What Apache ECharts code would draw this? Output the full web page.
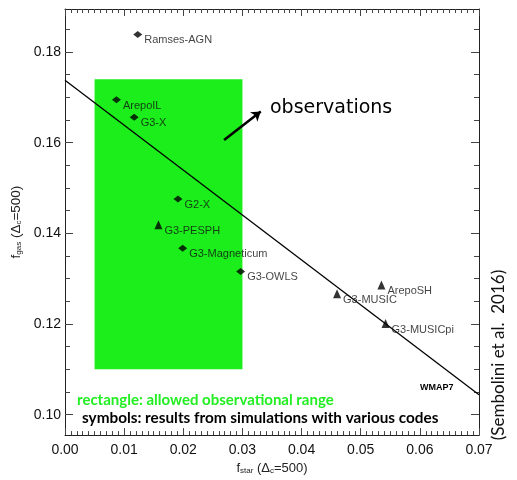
<!DOCTYPE html>
<html><head><meta charset="utf-8">
<script src="https://cdn.jsdelivr.net/npm/echarts@6/dist/echarts.min.js"></script>
<style>html,body{margin:0;padding:0;background:#fff}#c{width:517px;height:480px}</style>
</head><body><div id="c"></div>
<script>
// ---- data ----
const diamondNames = ['Ramses-AGN', 'ArepoIL', 'G3-X', 'G2-X', 'G3-Magneticum', 'G3-OWLS'];
const diamondX = [0.0123, 0.0087, 0.0117, 0.0191, 0.0199, 0.0297];
const diamondY = [0.1839, 0.1695, 0.1656, 0.1476, 0.1367, 0.1316];
const triNames = ['G3-PESPH', 'G3-MUSIC', 'ArepoSH', 'G3-MUSICpi'];
const triX = [0.0158, 0.0460, 0.0535, 0.0542];
const triY = [0.1419, 0.1267, 0.1286, 0.1201];
const fitX = [0.0, 0.07];
const fitY = [0.1738, 0.1044];
const rectX = [0.005, 0.030];
const rectY = [0.110, 0.174];
const arrowX = [0.0269, 0.0331];
const arrowY = [0.1606, 0.1669];
const yMajorTicks = [0.10, 0.12, 0.14, 0.16, 0.18];
const yMinorTicks = [0.105, 0.11, 0.115, 0.125, 0.13, 0.135, 0.145, 0.15, 0.155, 0.165, 0.17, 0.175, 0.185];

const chart = echarts.init(document.getElementById('c'), null, {renderer: 'canvas'});
const AX = '#222';
const TK = '#444';
const FONT = 'Liberation Sans';
const Y_MIN = 0.0955, Y_MAX = 0.1895;

const nameRich = {
  s: {fontSize: 8, fontFamily: FONT, color: '#222', verticalAlign: 'bottom', padding: [4, 0, 0, 0]}
};

function yAx(pos, ticks, len, labels, line) {
  return {
    type: 'value', position: pos, min: Y_MIN, max: Y_MAX,
    axisLine: {show: line, onZero: false, lineStyle: {color: AX, width: 1}},
    axisTick: {show: true, inside: false, length: -len, customValues: ticks, lineStyle: {color: TK, width: 1}},
    axisLabel: labels ? {show: true, customValues: ticks, formatter: v => v.toFixed(2), fontFamily: FONT, fontSize: 14, color: '#111', margin: 4} : {show: false},
    splitLine: {show: false}
  };
}
function xAx(pos, labels) {
  return {
    type: 'value', position: pos, min: 0, max: 0.07, interval: 0.01,
    axisLine: {show: true, onZero: false, lineStyle: {color: AX, width: 1}},
    axisTick: {show: true, inside: false, length: -7, lineStyle: {color: TK, width: 1}},
    minorTick: {show: true, splitNumber: 10, length: -4, lineStyle: {color: TK, width: 1}},
    axisLabel: labels ? {show: true, formatter: v => v.toFixed(2), fontFamily: FONT, fontSize: 14, color: '#111', margin: 8} : {show: false},
    splitLine: {show: false}, minorSplitLine: {show: false}
  };
}

const xMain = xAx('bottom', true);
xMain.name = 'f{s|star} (Δ{s|c}=500)';
xMain.nameLocation = 'middle';
xMain.nameGap = 26;
xMain.nameTextStyle = {fontFamily: FONT, fontSize: 13, color: '#222', rich: nameRich};
const xTop = xAx('top', false);

const yMain = yAx('left', yMajorTicks, 8, true, true);
yMain.name = 'f{s|gas} (Δ{s|c}=500)';
yMain.nameLocation = 'middle';
yMain.nameGap = 39;
yMain.nameTextStyle = {fontFamily: FONT, fontSize: 13.5, color: '#222', rich: nameRich};

const option = {
  backgroundColor: '#fff',
  animation: false,
  grid: {left: 65, right: 38, top: 9, bottom: 39, containLabel: false},
  xAxis: [xMain, xTop],
  yAxis: [
    yMain,
    yAx('left', yMinorTicks, 5, false, false),
    yAx('right', yMajorTicks, 8, false, true),
    yAx('right', yMinorTicks, 5, false, false)
  ],
  series: [
    {
      type: 'line', data: [], xAxisIndex: 0, yAxisIndex: 0, z: 1,
      markArea: {
        silent: true,
        itemStyle: {color: '#1bee1b', opacity: 1},
        data: [[{coord: [rectX[0], rectY[1]]}, {coord: [rectX[1], rectY[0]]}]]
      }
    },
    {
      type: 'line', xAxisIndex: 0, yAxisIndex: 0, z: 3,
      data: fitX.map((x, i) => [x, fitY[i]]),
      symbol: 'none', lineStyle: {color: '#000', width: 1.3}
    },
    {
      type: 'line', data: [], xAxisIndex: 0, yAxisIndex: 0, z: 4,
      markLine: {
        silent: true, symbolSize: 9,
        lineStyle: {color: '#000', width: 2.5, type: 'solid', curveness: 0.42},
        label: {show: false},
        data: [[{coord: [arrowX[0], arrowY[0]], symbol: 'none'}, {coord: [arrowX[1], arrowY[1]], symbol: 'arrow'}]]
      }
    },
    {
      type: 'scatter', xAxisIndex: 0, yAxisIndex: 0, z: 5,
      symbol: 'diamond', symbolSize: [9, 7],
      itemStyle: {color: '#000'},
      data: diamondX.map((x, i) => ({value: [x, diamondY[i]], name: diamondNames[i]})),
      label: {show: true, position: 'right', distance: 2, offset: [0, 6], formatter: p => p.name,
        fontFamily: FONT, fontSize: 11, color: '#111'}
    },
    {
      type: 'scatter', xAxisIndex: 0, yAxisIndex: 0, z: 5,
      symbol: 'triangle', symbolSize: [8, 9],
      itemStyle: {color: '#000'},
      data: triX.map((x, i) => ({value: [x, triY[i]], name: triNames[i]})),
      label: {show: true, position: 'right', distance: 2, offset: [0, 6], formatter: p => p.name,
        fontFamily: FONT, fontSize: 11, color: '#111'}
    }
  ],
  graphic: [
    {type: 'text', x: 270, y: 108, z: 10,
      style: {text: 'observations', font: '19px "DejaVu Sans"', fill: '#000', textAlign: 'left', align: 'left', textVerticalAlign: 'middle', verticalAlign: 'middle'}},
    {type: 'text', x: 77, y: 400, z: 10,
      style: {text: 'rectangle: allowed observational range', font: 'bold 15px Lato', fill: '#22ee22', textAlign: 'left', align: 'left', textVerticalAlign: 'middle', verticalAlign: 'middle'}},
    {type: 'text', x: 82, y: 418, z: 10,
      style: {text: 'symbols: results from simulations with various codes', font: 'bold 15.3px Lato', fill: '#000', textAlign: 'left', align: 'left', textVerticalAlign: 'middle', verticalAlign: 'middle'}},
    {type: 'text', x: 420, y: 388, z: 10,
      style: {text: 'WMAP7', font: 'bold 9px "Liberation Sans"', fill: '#000', textAlign: 'left', align: 'left', textVerticalAlign: 'middle', verticalAlign: 'middle'}},
    {type: 'text', x: 499, y: 355, rotation: Math.PI / 2, z: 10,
      style: {text: '(Sembolini et al.  2016)', font: '17px Lato', fill: '#111', textAlign: 'center', align: 'center', textVerticalAlign: 'middle', verticalAlign: 'middle'}}
  ]
};
chart.setOption(option);
</script>
</body></html>
